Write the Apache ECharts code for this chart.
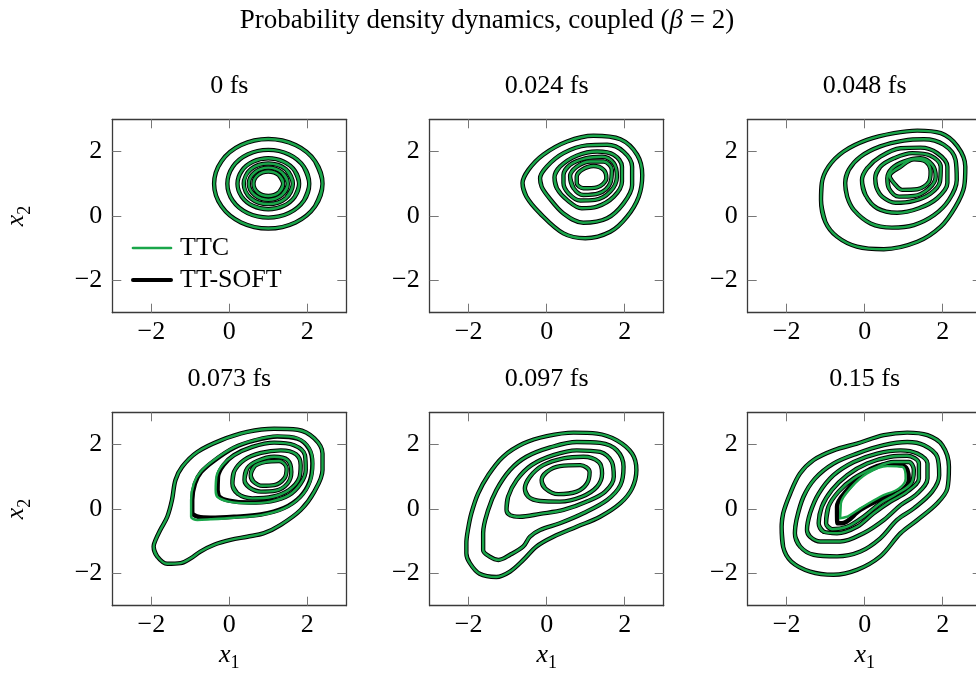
<!DOCTYPE html>
<html>
<head>
<meta charset="utf-8">
<script src="https://cdn.jsdelivr.net/npm/echarts@6/dist/echarts.min.js"></script>
<style>
  html, body { margin: 0; padding: 0; background: #ffffff; }
  #chart { width: 976px; height: 675px; }
</style>
</head>
<body>
<div id="chart"></div>
<script>
// ---- Data -------------------------------------------------------------
const mainTitle = 'Probability density dynamics, coupled (';
const panelTitles = ['0 fs', '0.024 fs', '0.048 fs', '0.073 fs', '0.097 fs', '0.15 fs'];
const seriesNames = ['TTC', 'TT-SOFT'];
const tickValues = [-2, 0, 2];
const axisRange = [-3, 3];

// Contour lines (x1, x2) of the density, outermost level first.
const ttc0 = [
  [[2.39,1.00],[2.20,1.70],[1.70,2.20],[1.00,2.39],[0.30,2.20],[-0.20,1.70],[-0.39,1.00],[-0.20,0.30],[0.30,-0.20],[1.00,-0.39],[1.70,-0.20],[2.20,0.30],[2.39,1.00]],
  [[2.05,1.00],[1.91,1.53],[1.53,1.91],[1.00,2.05],[0.47,1.91],[0.09,1.53],[-0.05,1.00],[0.09,0.47],[0.47,0.09],[1.00,-0.05],[1.53,0.09],[1.91,0.47],[2.05,1.00]],
  [[1.79,1.00],[1.68,1.40],[1.40,1.68],[1.00,1.79],[0.60,1.68],[0.32,1.40],[0.21,1.00],[0.32,0.60],[0.60,0.32],[1.00,0.21],[1.40,0.32],[1.68,0.60],[1.79,1.00]],
  [[1.63,1.00],[1.45,1.45],[1.00,1.63],[0.55,1.45],[0.37,1.00],[0.55,0.55],[1.00,0.37],[1.45,0.55],[1.63,1.00]],
  [[1.50,1.00],[1.35,1.35],[1.00,1.50],[0.65,1.35],[0.50,1.00],[0.65,0.65],[1.00,0.50],[1.35,0.65],[1.50,1.00]],
  [[1.38,1.00],[1.27,1.27],[1.00,1.38],[0.73,1.27],[0.62,1.00],[0.73,0.73],[1.00,0.62],[1.27,0.73],[1.38,1.00]]
];
const soft0 = ttc0;

const ttc1 = [
  [[-0.62,1.02],[-0.47,1.43],[-0.09,1.90],[0.52,2.31],[1.20,2.49],[1.89,2.38],[2.32,1.90],[2.45,1.27],[2.36,0.60],[2.06,-0.02],[1.63,-0.49],[0.99,-0.69],[0.43,-0.54],[-0.17,0.08],[-0.52,0.60],[-0.62,1.02]],
  [[-0.17,1.17],[0.00,1.53],[0.43,1.95],[1.03,2.19],[1.55,2.21],[1.97,2.00],[2.19,1.53],[2.19,0.96],[1.97,0.39],[1.55,-0.07],[0.94,-0.21],[0.43,0.08],[0.04,0.60],[-0.13,0.91],[-0.17,1.17]],
  [[0.20,1.20],[0.34,1.53],[0.77,1.87],[1.29,2.00],[1.72,1.90],[1.93,1.53],[1.93,1.07],[1.72,0.60],[1.29,0.29],[0.90,0.24],[0.52,0.50],[0.26,0.86],[0.20,1.20]],
  [[0.43,1.27],[0.60,1.59],[0.99,1.79],[1.42,1.84],[1.72,1.64],[1.80,1.22],[1.63,0.76],[1.24,0.50],[0.86,0.48],[0.56,0.70],[0.43,1.02],[0.43,1.27]],
  [[0.60,1.24],[0.77,1.53],[1.12,1.69],[1.46,1.69],[1.67,1.43],[1.63,1.02],[1.33,0.70],[0.94,0.65],[0.69,0.86],[0.60,1.24]],
  [[0.77,1.22],[0.90,1.43],[1.20,1.55],[1.46,1.43],[1.53,1.17],[1.29,0.89],[0.94,0.86],[0.77,1.02],[0.77,1.22]]
];
const soft1 = ttc1;

const ttc2 = [
  [[-1.12,0.50],[-1.10,1.02],[-0.93,1.53],[-0.54,2.00],[0.06,2.36],[0.75,2.57],[1.35,2.65],[1.95,2.57],[2.38,2.16],[2.58,1.53],[2.55,0.91],[2.33,0.29],[1.95,-0.33],[1.35,-0.80],[0.49,-1.03],[-0.20,-0.95],[-0.71,-0.64],[-1.01,-0.18],[-1.12,0.50]],
  [[-0.50,1.02],[-0.41,1.43],[-0.11,1.84],[0.40,2.16],[1.00,2.34],[1.52,2.38],[2.03,2.21],[2.33,1.74],[2.36,1.12],[2.16,0.50],[1.78,0.03],[1.26,-0.28],[0.70,-0.36],[0.15,-0.23],[-0.28,0.19],[-0.45,0.60],[-0.50,1.02]],
  [[-0.07,1.12],[0.06,1.48],[0.40,1.84],[0.92,2.10],[1.43,2.12],[1.86,1.95],[2.12,1.53],[2.12,1.02],[1.86,0.55],[1.39,0.24],[0.83,0.10],[0.32,0.24],[0.02,0.65],[-0.07,1.12]],
  [[0.27,1.17],[0.40,1.53],[0.75,1.79],[1.22,1.95],[1.69,1.87],[1.95,1.53],[1.93,1.07],[1.69,0.70],[1.26,0.47],[0.79,0.41],[0.45,0.60],[0.30,0.89],[0.27,1.17]],
  [[0.58,1.17],[0.70,1.48],[1.00,1.69],[1.43,1.79],[1.73,1.59],[1.82,1.22],[1.65,0.86],[1.26,0.62],[0.88,0.60],[0.62,0.86],[0.58,1.17]],
  [[0.64,1.24],[0.92,1.53],[1.26,1.76],[1.56,1.69],[1.69,1.38],[1.65,1.07],[1.35,0.83],[0.96,0.81],[0.75,1.02],[0.64,1.24]]
];
const soft2 = ttc2;

const ttc3 = [
  [[-1.94,-1.16],[-1.85,-1.47],[-1.59,-1.70],[-1.25,-1.68],[-0.99,-1.53],[-0.74,-1.32],[-0.39,-1.11],[0.03,-0.96],[0.46,-0.86],[0.89,-0.75],[1.32,-0.49],[1.83,-0.03],[2.18,0.54],[2.39,1.21],[2.39,1.72],[2.18,2.19],[1.75,2.46],[1.15,2.49],[0.46,2.39],[-0.22,2.13],[-0.82,1.77],[-1.21,1.31],[-1.38,0.90],[-1.47,0.28],[-1.59,-0.24],[-1.77,-0.65],[-1.89,-0.96],[-1.94,-1.16]],
  [[-0.98,-0.24],[-0.98,0.28],[-0.91,0.79],[-0.74,1.15],[-0.39,1.52],[0.12,1.91],[0.63,2.13],[1.23,2.26],[1.75,2.19],[2.05,1.88],[2.14,1.41],[2.07,0.85],[1.83,0.38],[1.41,0.02],[0.81,-0.19],[0.12,-0.27],[-0.48,-0.32],[-0.82,-0.34],[-0.98,-0.24]],
  [[-0.35,0.59],[-0.33,1.00],[-0.18,1.36],[0.12,1.67],[0.59,1.93],[1.15,2.06],[1.66,1.98],[1.94,1.67],[1.96,1.21],[1.83,0.79],[1.53,0.43],[1.06,0.23],[0.51,0.18],[-0.01,0.23],[-0.31,0.38],[-0.35,0.59]],
  [[0.08,0.79],[0.12,1.15],[0.38,1.52],[0.81,1.74],[1.32,1.82],[1.71,1.70],[1.83,1.36],[1.79,0.95],[1.53,0.59],[1.11,0.38],[0.59,0.33],[0.21,0.48],[0.08,0.79]],
  [[0.39,0.90],[0.46,1.26],[0.72,1.49],[1.15,1.62],[1.49,1.52],[1.59,1.15],[1.49,0.79],[1.19,0.57],[0.81,0.54],[0.51,0.67],[0.39,0.90]],
  [[0.55,1.05],[0.65,1.33],[0.93,1.46],[1.28,1.49],[1.47,1.26],[1.41,0.95],[1.15,0.74],[0.85,0.72],[0.62,0.85],[0.55,1.05]]
];
const soft3 = [
  ttc3[0],
  [[-0.95,-0.10],[-0.95,0.28],[-0.88,0.79],[-0.72,1.15],[-0.39,1.50],[0.12,1.90],[0.63,2.12],[1.23,2.25],[1.75,2.18],[2.04,1.88],[2.13,1.41],[2.06,0.85],[1.82,0.38],[1.40,0.03],[0.81,-0.17],[0.12,-0.24],[-0.48,-0.27],[-0.80,-0.24],[-0.95,-0.10]],
  [[-0.30,0.59],[-0.29,1.00],[-0.15,1.36],[0.12,1.67],[0.59,1.93],[1.15,2.06],[1.66,1.98],[1.94,1.67],[1.96,1.21],[1.83,0.79],[1.53,0.43],[1.06,0.24],[0.51,0.20],[-0.01,0.26],[-0.27,0.40],[-0.30,0.59]],
  ttc3[3],
  ttc3[4],
  ttc3[5]
];

const ttc4 = [
  [[-2.06,-1.06],[-2.02,-0.65],[-1.93,-0.13],[-1.76,0.48],[-1.50,1.05],[-1.12,1.62],[-0.60,2.03],[0.00,2.26],[0.69,2.37],[1.29,2.34],[1.80,2.13],[2.19,1.72],[2.30,1.21],[2.19,0.64],[1.89,0.18],[1.37,-0.24],[0.77,-0.55],[0.17,-0.86],[-0.26,-1.16],[-0.60,-1.58],[-0.94,-1.94],[-1.29,-2.11],[-1.72,-2.01],[-1.97,-1.68],[-2.06,-1.37],[-2.06,-1.06]],
  [[-1.63,-1.27],[-1.63,-0.75],[-1.50,-0.03],[-1.29,0.59],[-0.94,1.21],[-0.52,1.62],[0.09,1.91],[0.77,2.08],[1.37,2.05],[1.80,1.82],[1.97,1.31],[1.89,0.74],[1.55,0.28],[0.94,-0.13],[0.34,-0.44],[-0.17,-0.65],[-0.43,-0.86],[-0.60,-1.16],[-0.94,-1.42],[-1.24,-1.58],[-1.46,-1.48],[-1.63,-1.27]],
  [[-1.03,-0.03],[-0.99,0.38],[-0.77,0.90],[-0.39,1.36],[0.17,1.67],[0.77,1.82],[1.37,1.77],[1.67,1.46],[1.72,1.00],[1.50,0.54],[1.03,0.23],[0.43,-0.03],[-0.17,-0.15],[-0.69,-0.24],[-0.94,-0.19],[-1.03,-0.03]],
  [[-0.56,0.64],[-0.43,1.00],[-0.09,1.36],[0.43,1.57],[0.94,1.62],[1.33,1.46],[1.42,1.10],[1.29,0.69],[0.90,0.38],[0.34,0.23],[-0.17,0.25],[-0.47,0.38],[-0.56,0.64]],
  [[-0.13,0.90],[0.00,1.15],[0.34,1.33],[0.86,1.36],[1.10,1.15],[1.03,0.79],[0.77,0.54],[0.30,0.46],[-0.04,0.64],[-0.13,0.90]]
];
const soft4 = ttc4;

const ttc5 = [
  [[-2.13,-0.55],[-2.09,-0.13],[-1.91,0.48],[-1.66,1.10],[-1.31,1.52],[-0.80,1.82],[-0.20,2.03],[0.49,2.29],[1.09,2.37],[1.61,2.29],[1.99,1.98],[2.16,1.31],[2.12,0.64],[1.86,0.18],[1.35,-0.34],[0.92,-0.75],[0.40,-1.47],[-0.20,-1.89],[-0.80,-2.04],[-1.40,-1.94],[-1.88,-1.63],[-2.09,-1.18],[-2.13,-0.55]],
  [[-1.79,-0.75],[-1.75,-0.34],[-1.57,0.38],[-1.27,0.95],[-0.80,1.41],[-0.20,1.72],[0.49,1.98],[1.09,2.08],[1.52,1.98],[1.86,1.62],[1.91,1.05],[1.73,0.54],[1.26,0.02],[0.83,-0.34],[0.40,-0.91],[-0.11,-1.32],[-0.71,-1.47],[-1.31,-1.42],[-1.66,-1.16],[-1.79,-0.75]],
  [[-1.48,-0.65],[-1.40,-0.13],[-1.18,0.48],[-0.80,1.05],[-0.28,1.46],[0.32,1.72],[0.92,1.82],[1.35,1.72],[1.61,1.41],[1.61,0.95],[1.35,0.48],[0.92,0.12],[0.49,-0.34],[-0.03,-0.75],[-0.63,-1.01],[-1.14,-1.01],[-1.40,-0.86],[-1.48,-0.65]],
  [[-1.18,-0.44],[-1.10,0.07],[-0.84,0.59],[-0.45,1.05],[0.06,1.41],[0.66,1.62],[1.09,1.65],[1.39,1.41],[1.39,0.95],[1.09,0.54],[0.66,0.23],[0.23,-0.13],[-0.20,-0.55],[-0.71,-0.75],[-1.06,-0.70],[-1.18,-0.44]],
  [[-0.99,-0.44],[-0.93,0.07],[-0.67,0.54],[-0.28,0.95],[0.23,1.26],[0.75,1.46],[1.13,1.46],[1.26,1.21],[1.19,0.79],[0.83,0.48],[0.40,0.18],[-0.03,-0.24],[-0.45,-0.55],[-0.84,-0.63],[-0.99,-0.44]],
  [[-0.63,-0.29],[-0.61,0.18],[-0.37,0.64],[0.06,1.10],[0.58,1.33],[0.96,1.31],[1.05,0.95],[0.88,0.64],[0.40,0.38],[-0.11,0.02],[-0.45,-0.24],[-0.63,-0.29]]
];
const soft5 = [
  ttc5[0], ttc5[1], ttc5[2], ttc5[3], ttc5[4],
  [[-0.70,-0.44],[-0.71,0.07],[-0.45,0.59],[0.02,1.15],[0.58,1.39],[1.02,1.33],[1.13,0.92],[0.96,0.59],[0.45,0.33],[-0.11,-0.03],[-0.58,-0.44],[-0.70,-0.44]]
];

const ttcSets = [ttc0, ttc1, ttc2, ttc3, ttc4, ttc5];
const softSets = [soft0, soft1, soft2, soft3, soft4, soft5];

// ---- Layout & style ---------------------------------------------------
const FONT = '"Liberation Serif", "DejaVu Serif", serif';
const FS = 26;
const GREEN = '#1aa64a';
const BLACK = '#000000';
const AXIS_COLOR = '#3a3a3a';
const colLeft = [112.3, 429.7, 747.7];
const rowTop = [119.3, 412.3];
const panelW = 234;
const panelH = 193.4;
const rowTitleY = [86, 379];

const fmtTick = v => (v < 0 ? '\u2212' + (-v) : String(v));
const subRich = {
  v: { fontFamily: FONT, fontSize: FS, fontStyle: 'italic', lineHeight: 36, verticalAlign: 'middle', color: '#000' },
  s: { fontFamily: FONT, fontSize: 18, lineHeight: 18, verticalAlign: 'bottom', color: '#000' }
};

// A closed contour is drawn with its first segments repeated so that the
// smoothing has neighbours on both sides of the seam.
const closeLoop = level => {
  const n = level.length;
  return [level[n - 2]].concat(level, [level[1]]);
};

const grids = [], xAxes = [], yAxes = [], series = [], graphics = [];

panelTitles.forEach((title, i) => {
  const row = Math.floor(i / 3), col = i % 3;
  grids.push({ left: colLeft[col], top: rowTop[row], width: panelW, height: panelH, show: false, outerBoundsMode: 'none' });

  const common = {
    type: 'value', gridIndex: i, min: axisRange[0], max: axisRange[1],
    splitLine: { show: false },
    axisLine: { show: true, onZero: false, lineStyle: { color: AXIS_COLOR, width: 1.3 } },
    axisTick: { show: true, inside: true, length: 9, customValues: tickValues, lineStyle: { color: '#777', width: 1 } },
    axisLabel: { show: true, customValues: tickValues, formatter: fmtTick, fontFamily: FONT, fontSize: FS, color: '#000' }
  };

  xAxes.push(Object.assign({}, common, {
    position: 'bottom',
    axisLabel: Object.assign({}, common.axisLabel, { margin: 6 }),
    name: row === 1 ? '{v|x}{s|1}' : '',
    nameLocation: 'middle', nameGap: 31,
    nameTextStyle: { rich: subRich }
  }));
  xAxes.push(Object.assign({}, common, { position: 'top', axisLabel: { show: false } }));

  yAxes.push(Object.assign({}, common, {
    position: 'left',
    axisLabel: Object.assign({}, common.axisLabel, { margin: 10 }),
    name: col === 0 ? '{v|x}{s|2}' : '',
    nameLocation: 'middle', nameGap: 78, nameRotate: 90,
    nameTextStyle: { rich: subRich }
  }));
  yAxes.push(Object.assign({}, common, { position: 'right', axisLabel: { show: false } }));

  const addLines = (sets, name, color, width, z) => {
    sets[i].forEach(level => {
      series.push({
        type: 'line', name, xAxisIndex: 2 * i, yAxisIndex: 2 * i,
        data: closeLoop(level), showSymbol: false, symbol: 'none', smooth: 0.35, z,
        silent: true, animation: false,
        lineStyle: { color, width, join: 'round', cap: 'round' },
        itemStyle: { color }
      });
    });
  };
  addLines(softSets, seriesNames[1], BLACK, 4.4, 2);
  addLines(ttcSets, seriesNames[0], GREEN, 2.4, 3);

  graphics.push({
    type: 'text', x: colLeft[col] + panelW / 2, y: rowTitleY[row],
    style: { text: title, fontFamily: FONT, fontSize: FS, fill: '#000', align: 'center', verticalAlign: 'middle' }
  });
});

graphics.push({
  type: 'text', x: 487, y: 21,
  style: {
    text: mainTitle + '{b|\u03b2} = 2)',
    fontFamily: FONT, fontSize: 27, fill: '#000', align: 'center', verticalAlign: 'middle',
    rich: { b: { fontFamily: FONT, fontSize: 27, fontStyle: 'italic', fill: '#000' } }
  }
});

const chart = echarts.init(document.getElementById('chart'), null, { renderer: 'canvas' });
chart.setOption({
  backgroundColor: '#ffffff',
  animation: false,
  grid: grids,
  xAxis: xAxes,
  yAxis: yAxes,
  legend: {
    orient: 'vertical', left: 131, top: 235, padding: 0, itemGap: 6,
    itemWidth: 38, itemHeight: 14, selectedMode: false,
    itemStyle: { opacity: 0 },
    textStyle: { fontFamily: FONT, fontSize: FS, color: '#000', padding: [0, 0, 0, 4] },
    data: [
      { name: seriesNames[0], lineStyle: { color: GREEN, width: 2.7 } },
      { name: seriesNames[1], lineStyle: { color: BLACK, width: 4 } }
    ]
  },
  graphic: graphics,
  series
});
</script>
</body>
</html>
